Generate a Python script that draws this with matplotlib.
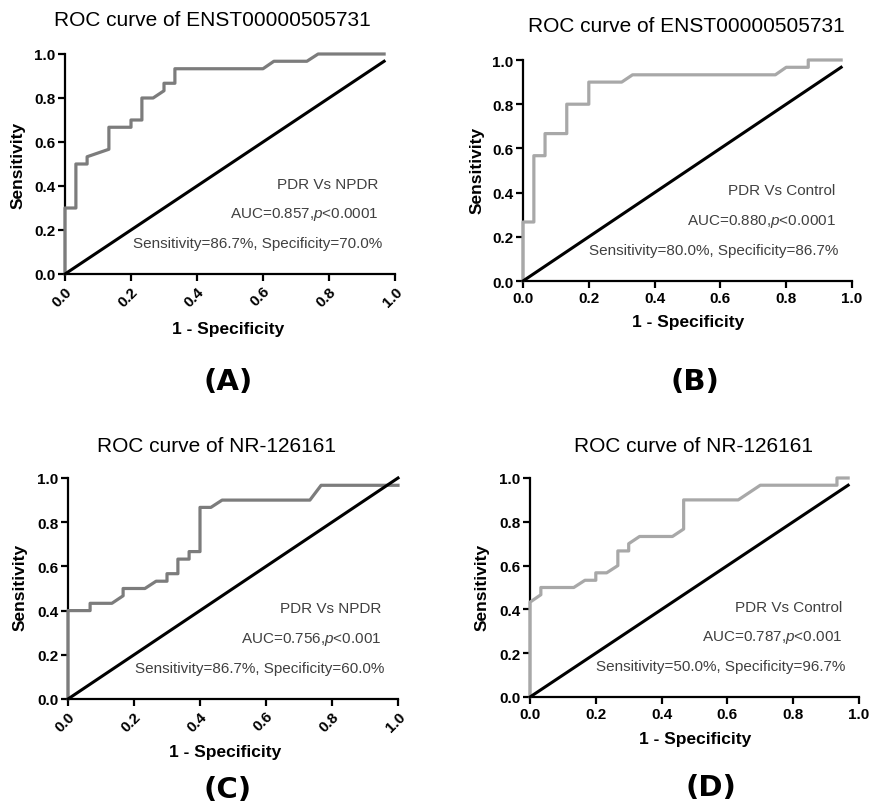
import matplotlib.pyplot as plt

plt.rcParams["font.family"] = ["Liberation Sans", "DejaVu Sans"]
plt.rcParams["mathtext.fontset"] = "custom"
plt.rcParams["mathtext.rm"] = "Liberation Sans"
plt.rcParams["mathtext.it"] = "Liberation Sans:italic"

# ROC points (1 - specificity, sensitivity)
a_fpr = [0, 0, 0.033, 0.033, 0.067, 0.067, 0.133, 0.133, 0.2, 0.2, 0.233, 0.233,
         0.267, 0.3, 0.3, 0.333, 0.333, 0.6, 0.633, 0.733, 0.767, 0.967]
a_tpr = [0, 0.3, 0.3, 0.5, 0.5, 0.533, 0.567, 0.667, 0.667, 0.7, 0.7, 0.8,
         0.8, 0.833, 0.867, 0.867, 0.933, 0.933, 0.967, 0.967, 1.0, 1.0]

b_fpr = [0, 0, 0.033, 0.033, 0.067, 0.067, 0.133, 0.133, 0.2, 0.2, 0.3, 0.333,
         0.767, 0.8, 0.867, 0.867, 0.967]
b_tpr = [0, 0.267, 0.267, 0.567, 0.567, 0.667, 0.667, 0.8, 0.8, 0.9, 0.9, 0.933,
         0.933, 0.967, 0.967, 1.0, 1.0]

c_fpr = [0, 0, 0.067, 0.067, 0.133, 0.167, 0.167, 0.233, 0.267, 0.3, 0.3, 0.333,
         0.333, 0.367, 0.367, 0.4, 0.4, 0.433, 0.467, 0.733, 0.767, 1.0]
c_tpr = [0, 0.4, 0.4, 0.433, 0.433, 0.467, 0.5, 0.5, 0.533, 0.533, 0.567, 0.567,
         0.633, 0.633, 0.667, 0.667, 0.867, 0.867, 0.9, 0.9, 0.967, 0.967]

d_fpr = [0, 0, 0.033, 0.033, 0.133, 0.167, 0.2, 0.2, 0.233, 0.267, 0.267, 0.3,
         0.3, 0.333, 0.433, 0.467, 0.467, 0.633, 0.7, 0.933, 0.933, 0.967]
d_tpr = [0, 0.433, 0.467, 0.5, 0.5, 0.533, 0.533, 0.567, 0.567, 0.6, 0.667, 0.667,
         0.7, 0.733, 0.733, 0.767, 0.9, 0.9, 0.967, 0.967, 1.0, 1.0]

# end of the reference (chance) line in each panel
diag_end = [0.967, 0.967, 1.0, 0.967]

titles = ["ROC curve of ENST00000505731", "ROC curve of ENST00000505731",
          "ROC curve of NR-126161", "ROC curve of NR-126161"]
groups = ["PDR Vs NPDR", "PDR Vs Control", "PDR Vs NPDR", "PDR Vs Control"]
auc_text = ["AUC=0.857,$p$<0.0001", "AUC=0.880,$p$<0.0001",
            "AUC=0.756,$p$<0.001", "AUC=0.787,$p$<0.001"]
sens_text = ["Sensitivity=86.7%, Specificity=70.0%",
             "Sensitivity=80.0%, Specificity=86.7%",
             "Sensitivity=86.7%, Specificity=60.0%",
             "Sensitivity=50.0%, Specificity=96.7%"]
panel_tags = ["(A)", "(B)", "(C)", "(D)"]
ticks = [0.0, 0.2, 0.4, 0.6, 0.8, 1.0]
tick_labels = ["0.0", "0.2", "0.4", "0.6", "0.8", "1.0"]

W, H = 871, 803
fig = plt.figure(figsize=(W / 100, H / 100), dpi=100)


def fx(x):
    return x / W


def fy(y):
    return 1 - y / H


# layout in pixels: axes box (left, right, top, bottom), title, xlabel,
# ylabel and tag centres
layout = [
    dict(box=(65, 395, 55, 275), title=(212, 20), xl=(228, 330), yl=(18, 165),
         tag=(228, 382), rot=True, color="#7c7c7c"),
    dict(box=(523, 852, 61, 282), title=(686, 27), xl=(688, 322), yl=(477, 170),
         tag=(695, 382), rot=False, color="#a8a8a8"),
    dict(box=(68, 398, 479, 700), title=(216, 447), xl=(225, 753), yl=(20, 587),
         tag=(228, 790), rot=True, color="#7c7c7c"),
    dict(box=(530, 859, 479, 698), title=(693, 447), xl=(695, 740), yl=(482, 587),
         tag=(711, 788), rot=False, color="#a8a8a8"),
]
curves = [(a_fpr, a_tpr), (b_fpr, b_tpr), (c_fpr, c_tpr), (d_fpr, d_tpr)]

for i, lay in enumerate(layout):
    l, r, t, b = lay["box"]
    ax = fig.add_axes([fx(l), fy(b), (r - l) / W, (b - t) / H])
    fpr, tpr = curves[i]
    ax.plot(fpr, tpr, color=lay["color"], lw=2.3, clip_on=False, zorder=3)
    ax.plot([0, diag_end[i]], [0, diag_end[i]], color="black", lw=2.2,
            clip_on=False, zorder=4)
    ax.set_xlim(0, 1)
    ax.set_ylim(0, 1)
    for s in ("top", "right"):
        ax.spines[s].set_visible(False)
    for s in ("left", "bottom"):
        ax.spines[s].set_linewidth(1.6)
    ax.tick_params(direction="out", length=5, width=1.6, pad=2)
    ax.set_xticks(ticks)
    ax.set_yticks(ticks)
    ax.set_yticklabels(tick_labels, fontsize=11, fontweight="bold")
    if lay["rot"]:
        ax.set_xticklabels(tick_labels, fontsize=11, fontweight="bold",
                           rotation=45, ha="right", rotation_mode="anchor")
    else:
        ax.set_xticklabels(tick_labels, fontsize=11, fontweight="bold")

    txt = dict(ha="right", va="center", fontsize=11, color="#404040",
               transform=ax.transAxes)
    ax.text(0.95, 0.41, groups[i], **txt)
    ax.text(0.95, 0.275, auc_text[i], **txt)
    ax.text(0.96, 0.14, sens_text[i], **txt)

    fig.text(fx(lay["title"][0]), fy(lay["title"][1]), titles[i], fontsize=15,
             ha="center", va="center")
    fig.text(fx(lay["xl"][0]), fy(lay["xl"][1]), "1 - Specificity", fontsize=12.5,
             fontweight="bold", ha="center", va="center")
    fig.text(fx(lay["yl"][0]), fy(lay["yl"][1]), "Sensitivity", fontsize=12.5,
             fontweight="bold", ha="center", va="center", rotation=90)
    fig.text(fx(lay["tag"][0]), fy(lay["tag"][1]), panel_tags[i], fontsize=21,
             fontweight="bold", ha="center", va="center", family="DejaVu Sans")

fig.savefig("out.png", dpi=100)
